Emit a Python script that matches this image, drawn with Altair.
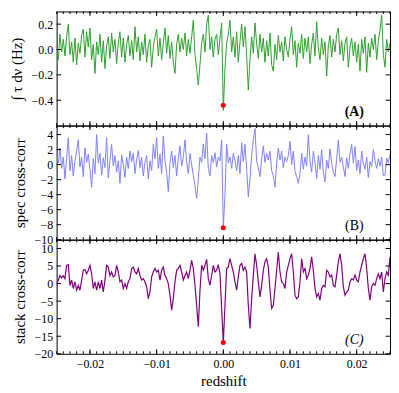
import altair as alt
import pandas as pd

# redshift sampling grid
Z_START = -0.025
Z_STEP = 0.00025
N = 201

# Panel A: integrated optical depth (Hz), left half incl. z=0, then right half
tau_left = [
    0.02, -0.08, 0.12, -0.02, 0.08, -0.05, 0.10, 0.20, -0.04, 0.06,
    -0.10, 0.09, -0.12, 0.05, -0.03, 0.11, 0.16, -0.06, 0.14, 0.02,
    0.17, -0.08, 0.04, -0.19, 0.06, -0.04, 0.12, -0.10, 0.07, -0.15,
    0.03, 0.10, -0.07, 0.13, -0.02, 0.08, -0.11, 0.05, 0.14, -0.06,
    0.09, -0.10, 0.04, 0.11, -0.05, 0.07, -0.08, 0.18, -0.02, 0.10,
    -0.09, 0.06, -0.04, 0.12, -0.10, 0.03, 0.08, -0.14, 0.02, 0.10,
    0.16, -0.05, 0.09, -0.08, 0.05, 0.17, -0.03, 0.11, -0.07, 0.06,
    -0.10, -0.19, 0.04, 0.12, -0.02, 0.09, 0.00, 0.13, -0.05, 0.08,
    -0.03, 0.10, 0.23, -0.04, -0.15, -0.28, -0.12, 0.05, 0.12, -0.02,
    0.20, 0.27, 0.00, 0.10, -0.06, 0.08, 0.12, -0.04, 0.09, 0.21,
    -0.48,
]
tau_right = [
    -0.15, 0.05, 0.12, 0.23, -0.02, 0.10, -0.06, 0.14, -0.10, 0.06,
    0.20, 0.02, 0.18, -0.05, -0.32, -0.08, 0.10, -0.03, 0.21, 0.05,
    -0.07, 0.12, -0.02, 0.09, -0.10, 0.07, -0.05, 0.13, -0.12, -0.17,
    0.04, -0.08, 0.11, -0.02, 0.06, -0.09, 0.10, 0.00, -0.06, 0.08,
    0.18, -0.04, 0.07, -0.14, 0.05, -0.03, 0.12, -0.07, 0.09, -0.02,
    0.10, -0.11, 0.04, 0.13, -0.05, 0.22, 0.01, -0.08, 0.09, -0.04,
    0.06, -0.21, 0.03, 0.11, -0.06, 0.08, -0.02, 0.12, 0.17, -0.04,
    0.07, -0.09, 0.05, 0.10, -0.14, 0.02, 0.09, -0.05, 0.06, -0.10,
    0.04, -0.17, 0.08, -0.03, 0.10, -0.18, 0.05, -0.06, 0.09, 0.00,
    0.12, -0.08, 0.07, 0.15, 0.27, -0.04, -0.14, 0.08, -0.02, 0.05,
]

# Panel B: spectral cross-correlation
spec_left = [
    1.5, 0.2, 2.2, -0.5, 1.0, -1.9, 0.8, 3.6, -0.8, 1.2,
    -1.5, 0.5, 1.8, 3.3, -0.3, 1.0, -1.6, 2.2, 0.3, 1.4,
    -0.6, -3.0, 0.8, -1.2, 4.0, 0.2, 1.5, -1.4, 0.9, -0.4,
    3.6, -1.8, 0.6, 2.7, -0.2, 1.2, -1.0, 0.5, -2.5, 1.3,
    0.0, -1.7, 1.0, -0.5, 1.8, 0.4, 1.5, -1.2, 0.6, 1.9,
    -0.4, 1.0, -1.5, 0.3, 1.2, -1.9, 0.5, -0.8, 2.7, 0.8,
    3.6, -0.5, 1.4, -1.2, 3.8, 0.6, -1.0, -3.6, 0.2, 1.8,
    -0.4, 1.2, -1.5, 0.8, 2.5, -0.2, 1.0, 3.3, 0.4, -1.2,
    1.5, 0.0, -1.4, -2.8, -4.5, -2.0, 1.0, 0.3, 2.7, 0.8,
    4.2, -0.5, -1.5, 1.2, 0.3, 1.6, -0.3, 1.0, 0.5, 3.3,
    -8.5,
]
spec_right = [
    -4.0, 2.7, 0.2, 1.0, -0.5, 1.5, 0.6, -0.8, 1.2, -1.2,
    2.9, 0.4, 2.7, -0.6, -4.3, -1.8, 1.2, 3.3, 4.8, 0.5,
    -0.4, -1.6, 0.8, 2.5, 0.3, 1.5, 0.6, 1.8, -0.8, -1.5,
    -3.0, 0.2, 2.2, 0.6, 1.8, -0.4, 1.0, 0.4, 1.2, 3.1,
    0.0, 1.8, -0.9, -1.6, -2.5, -1.2, 1.5, -0.6, 1.0, -0.2,
    4.0, 0.5, -1.0, 1.8, 0.3, -1.9, 1.2, -0.6, 2.0, -1.0,
    -2.3, 0.6, -0.5, 2.1, 0.2, -1.0, -1.6, 0.8, 3.3, 0.3,
    1.0, -0.3, -1.6, 0.9, -0.5, 1.4, 2.7, 0.2, 2.4, -0.8,
    0.6, -1.2, 1.8, 0.1, -0.6, 1.0, -1.7, 0.4, -0.3, 2.0,
    0.5, -0.5, 0.8, -0.2, 1.0, -1.5, -1.4, 0.9, 0.2, 1.4,
]

# Panel C: stacked cross-correlation
stack_left = [
    -0.5, 1.0, 2.3, 1.6, 2.2, 1.4, 5.2, 5.4, -0.5, 1.0,
    -1.4, 0.5, -1.9, -0.5, -1.9, 1.0, 3.8, 4.0, 2.8, 3.8,
    5.2, 2.8, -1.4, 0.5, -1.9, 0.5, -1.4, 1.0, -2.4, 1.0,
    5.2, 4.7, 2.3, 3.3, 1.9, 2.3, 5.2, 3.3, 0.5, 1.0,
    -1.4, 0.0, -1.4, 0.5, 1.4, 4.3, 4.7, 3.3, 2.8, 4.3,
    2.3, 1.0, 1.4, 0.5, -0.9, -4.3, -2.4, 1.9, 3.3, 4.3,
    3.3, 3.8, 1.0, 3.8, 4.7, 2.3, 1.4, 0.0, -3.3, -7.6,
    -4.3, 0.5, 3.8, 4.3, 5.2, 3.3, 1.0, 2.3, 3.3, 1.4,
    3.8, 6.6, 4.3, -0.5, -6.2, -12.3, -2.0, 5.2, 3.8, 5.2,
    6.9, 1.4, -0.5, 2.3, 5.2, 3.3, 3.8, 5.4, 2.8, -7.1,
    -16.8,
]
stack_right = [
    -6.2, 4.3, 4.7, 7.1, 5.2, 3.3, 0.5, -1.9, 1.9, 5.2,
    5.7, 3.8, 4.7, 3.3, -6.2, -12.8, -4.3, 2.4, 8.5, 5.2,
    0.5, -3.8, -0.5, 3.8, 6.2, 7.1, 4.7, -1.9, -7.1, -6.2,
    -1.4, 3.8, 8.9, 3.3, 0.5, 0.0, -1.4, 3.3, 5.2, 7.1,
    8.5, 3.3, -3.3, -4.3, -3.8, 0.5, 7.1, 3.3, 4.3, 1.4,
    2.4, 4.3, 7.6, 3.8, -1.4, -3.8, -2.8, -4.7, -1.4, -0.5,
    -0.9, 3.8, 3.3, 1.9, 2.4, -0.5, -0.9, 2.4, 6.2, 8.5,
    5.2, -0.9, -3.3, -2.4, -1.9, 0.5, 1.4, 1.0, 2.4, 1.0,
    0.5, 3.3, 5.2, 7.1, 8.5, 4.3, -1.4, -4.7, -0.9, 0.0,
    -0.5, 1.4, 2.8, 1.4, 3.3, -2.4, 1.4, 3.3, 2.4, 7.6,
]

# red markers at z = 0
dot_vals = [-0.44, -8.4, -16.8]

# tick lists
x_major = [-0.02, -0.01, 0.0, 0.01, 0.02]
x_minor = [round(-0.025 + 0.001 * i, 4) for i in range(51)]
yt_A = [-0.4, -0.2, 0.0, 0.2]
yt_B = [-10, -8, -6, -4, -2, 0, 2, 4]
yt_C = [-20, -15, -10, -5, 0, 5, 10]

tau = tau_left + tau_right
spec = spec_left + spec_right
stack = stack_left + stack_right
n = min(N, len(tau), len(spec), len(stack))
z = [round(Z_START + Z_STEP * i, 6) for i in range(n)]
df = pd.DataFrame({"z": z, "tau": tau[:n], "spec": spec[:n], "stack": stack[:n]})

W, H = 336, 115
FONT = "Liberation Serif"
XS = alt.Scale(domain=[-0.025, 0.025], nice=False, zero=False)
xmaj_df = pd.DataFrame({"t": x_major})
xmin_df = pd.DataFrame({"t": x_minor})


def panel(col, color, width, domain, yticks, fmt, ytitle, tpad, dot, label, lstyle, show_x):
    ys = alt.Scale(domain=domain, nice=False, zero=False)
    if show_x:
        xaxis = alt.Axis(values=x_major, format=".2f", ticks=False, domain=False,
                         grid=False, labelPadding=5, title="redshift", titlePadding=4,
                         labelFlush=False)
    else:
        xaxis = alt.Axis(values=x_major, ticks=False, domain=False, grid=False,
                         labels=False, title=None)
    yaxis = alt.Axis(values=yticks, format=fmt, ticks=False, domain=False,
                     grid=False, title=ytitle, labelPadding=4,
                     titlePadding=tpad, labelFlush=False)
    line = alt.Chart(df).mark_line(color=color, strokeWidth=width, clip=True).encode(
        x=alt.X("z:Q", scale=XS, axis=xaxis),
        y=alt.Y(f"{col}:Q", scale=ys, axis=yaxis),
    )
    dot_df = pd.DataFrame({"z": [0.0], "v": [dot]})
    pt = alt.Chart(dot_df).mark_circle(color="red", size=26, opacity=1).encode(
        x=alt.X("z:Q", scale=XS, axis=xaxis), y=alt.Y("v:Q", scale=ys, axis=yaxis))
    ytk = pd.DataFrame({"t": yticks})
    layers = [line, pt]
    for tdf, L in ((xmin_df, 2.5), (xmaj_df, 4.5)):
        layers.append(alt.Chart(tdf).mark_rule(color="black", strokeWidth=1).encode(
            x=alt.X("t:Q", scale=XS, axis=xaxis), y=alt.value(0), y2=alt.value(L)))
        layers.append(alt.Chart(tdf).mark_rule(color="black", strokeWidth=1).encode(
            x=alt.X("t:Q", scale=XS, axis=xaxis), y=alt.value(H), y2=alt.value(H - L)))
    layers.append(alt.Chart(ytk).mark_rule(color="black", strokeWidth=1).encode(
        y=alt.Y("t:Q", scale=ys, axis=yaxis), x=alt.value(0), x2=alt.value(4.5)))
    layers.append(alt.Chart(ytk).mark_rule(color="black", strokeWidth=1).encode(
        y=alt.Y("t:Q", scale=ys, axis=yaxis), x=alt.value(W), x2=alt.value(W - 4.5)))
    lab = alt.Chart(pd.DataFrame({"s": [label]})).mark_text(
        font=FONT, fontSize=14, color="black", fontWeight=lstyle[0], fontStyle=lstyle[1],
        align="center", baseline="middle").encode(
        text="s:N", x=alt.value(300), y=alt.value(H - 14))
    layers.append(lab)
    return alt.layer(*layers).properties(width=W, height=H)


pA = panel("tau", "#2ca02c", 1.0, [-0.6, 0.3], yt_A, ".1f", "∫ τ dν (Hz)", 7,
           dot_vals[0], "(A)", ("bold", "normal"), False)
pB = panel("spec", "#8080ff", 1.0, [-10, 5.2], yt_B, "d", "spec cross-corr", 7,
           dot_vals[1], "(B)", ("normal", "normal"), False)
pC = panel("stack", "#800080", 1.2, [-20, 12.5], yt_C, "d", "stack cross-corr", 7,
           dot_vals[2], "(C)", ("normal", "italic"), True)

chart = alt.vconcat(pA, pB, pC, spacing=0, bounds="flush").properties(
    padding={"left": 0, "top": 1, "right": 0, "bottom": 0}
).configure_view(stroke="black", strokeWidth=1).configure_axis(
    labelFont=FONT, titleFont=FONT, labelColor="black", titleColor="black",
    labelFontSize=12, titleFontSize=15, titleFontWeight="normal"
)

chart.save("out.html", embed_options={"renderer": "svg", "actions": False})
